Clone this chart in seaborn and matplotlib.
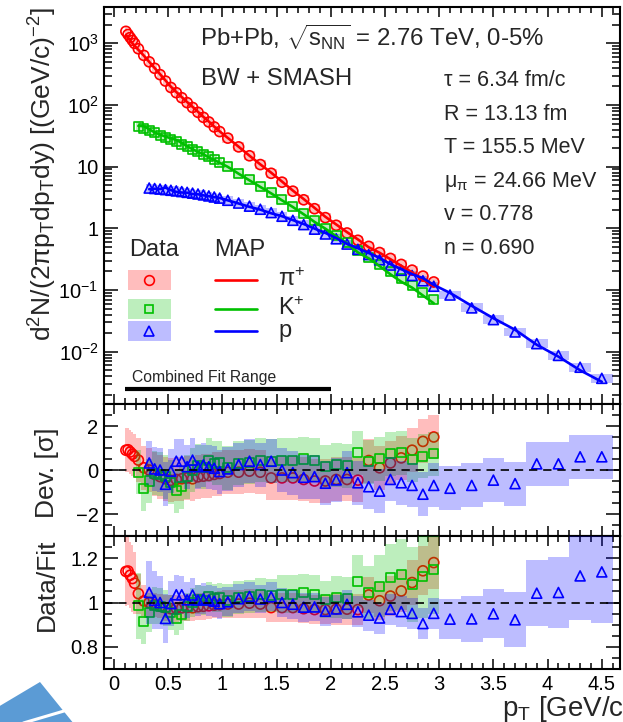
import numpy as np
import matplotlib
matplotlib.use("Agg")
import matplotlib.pyplot as plt
import matplotlib.ticker as mticker
from matplotlib.patches import Rectangle, Polygon
from matplotlib.lines import Line2D
import seaborn as sns

# ---------------- data ----------------
PI_EDGES = [0.10, 0.12, 0.14, 0.16, 0.18, 0.20, 0.25, 0.30, 0.35, 0.40, 0.45, 0.50, 0.55, 0.60,
            0.65, 0.70, 0.75, 0.80, 0.85, 0.90, 0.95, 1.00, 1.10, 1.20, 1.30, 1.40, 1.50, 1.60,
            1.70, 1.80, 1.90, 2.00, 2.10, 2.20, 2.30, 2.40, 2.50, 2.60, 2.70, 2.80, 2.90, 3.00]
K_EDGES = [0.20, 0.25, 0.30, 0.35, 0.40, 0.45, 0.50, 0.55, 0.60, 0.65, 0.70, 0.75, 0.80, 0.85,
           0.90, 0.95, 1.00, 1.10, 1.20, 1.30, 1.40, 1.50, 1.60, 1.70, 1.80, 1.90, 2.00, 2.10,
           2.20, 2.30, 2.40, 2.50, 2.60, 2.70, 2.80, 2.90, 3.00]
P_EDGES = [0.30, 0.35, 0.40, 0.45, 0.50, 0.55, 0.60, 0.65, 0.70, 0.75, 0.80, 0.85, 0.90, 0.95,
           1.00, 1.10, 1.20, 1.30, 1.40, 1.50, 1.60, 1.70, 1.80, 1.90, 2.00, 2.10, 2.20, 2.30,
           2.40, 2.50, 2.60, 2.70, 2.80, 2.90, 3.00, 3.20, 3.40, 3.60, 3.80, 4.00, 4.20, 4.40, 4.60]

PI_SPEC = [1560, 1390, 1240, 1110, 995, 815, 636, 500, 393, 310, 244, 192, 158, 131, 109, 91, 76,
           63, 53, 44, 37, 29, 20.9, 15.0, 10.8, 7.8, 5.6, 4.0, 2.9, 2.08, 1.49, 1.12, 0.84, 0.64,
           0.51, 0.405, 0.325, 0.26, 0.21, 0.168, 0.135]
K_SPEC = [45, 41.5, 38.5, 35.5, 32.5, 30, 27.5, 25.2, 23, 21, 19.2, 17.5, 16, 14.5, 13.1, 11.8,
          10, 7.85, 6.15, 4.85, 3.8, 2.95, 2.3, 1.76, 1.32, 1.0, 0.76, 0.58, 0.445, 0.34, 0.262,
          0.2, 0.153, 0.118, 0.091, 0.07]
P_SPEC = [4.50, 4.42, 4.33, 4.24, 4.14, 4.04, 3.94, 3.83, 3.72, 3.60, 3.48, 3.35, 3.22, 3.09,
          2.85, 2.57, 2.29, 2.04, 1.80, 1.57, 1.35, 1.15, 0.97, 0.81, 0.676, 0.556, 0.457, 0.376,
          0.309, 0.254, 0.209, 0.172, 0.141, 0.115, 0.083, 0.0513, 0.0331, 0.0209, 0.0135,
          0.0087, 0.0056, 0.0037]

PI_DEV = [0.90, 0.92, 0.82, 0.72, 0.62, 0.45, 0.10, 0.00, -0.20, -0.30, -0.40, -0.47, -0.43,
          -0.40, -0.36, -0.40, -0.31, -0.28, -0.25, -0.20, -0.16, -0.10, -0.10, -0.05, -0.10,
          -0.36, -0.36, -0.36, -0.43, -0.50, -0.50, -0.43, -0.43, -0.46, 0.43, 0.10, 0.32, 0.55,
          0.90, 1.30, 1.50]
K_DEV = [-0.10, -0.85, -0.50, -0.15, -0.20, -0.30, -0.55, -0.95, -0.75, -0.30, 0.00, 0.20, 0.12,
         0.45, 0.30, 0.32, 0.10, 0.30, 0.35, 0.45, 0.40, 0.45, 0.45, 0.50, 0.45, 0.15, 0.25, 0.20,
         0.78, 0.37, 0.52, 0.75, 0.78, 0.47, 0.62, 0.75]
P_DEV = [0.32, 0.05, 0.00, -0.65, -0.05, 0.40, 0.40, 0.15, 0.45, 0.15, 0.23, 0.15, 0.08, -0.07,
         0.05, 0.25, 0.40, 0.25, 0.40, 0.00, -0.12, -0.33, -0.30, -0.60, -0.45, -0.12, -0.58,
         -0.76, -0.96, -0.43, -0.58, -0.70, -1.10, -0.70, -0.83, -0.70, -0.46, -0.62, 0.28, 0.28,
         0.60, 0.60]

PI_RATIO = [1.140, 1.142, 1.123, 1.108, 1.087, 1.040, 1.007, 1.000, 0.989, 0.983, 0.976, 0.972,
            0.974, 0.976, 0.978, 0.976, 0.981, 0.983, 0.985, 0.988, 0.990, 0.993, 0.993, 0.997,
            0.993, 0.977, 0.977, 0.977, 0.972, 0.968, 0.968, 0.970, 0.970, 0.968, 1.034, 1.008,
            1.029, 1.052, 1.090, 1.143, 1.180]
K_RATIO = [0.985, 0.915, 0.955, 0.987, 0.984, 0.976, 0.956, 0.929, 0.948, 0.980, 1.000, 1.013,
           1.008, 1.029, 1.020, 1.021, 1.008, 1.023, 1.026, 1.034, 1.030, 1.038, 1.038, 1.043,
           1.038, 1.013, 1.024, 1.019, 1.094, 1.044, 1.073, 1.113, 1.125, 1.080, 1.118, 1.150]
P_RATIO = [1.045, 1.010, 1.000, 0.928, 0.995, 1.035, 1.035, 1.012, 1.034, 1.011, 1.016, 1.011,
           1.006, 0.995, 1.003, 1.017, 1.027, 1.016, 1.026, 1.000, 0.992, 0.979, 0.980, 0.961,
           0.971, 0.992, 0.958, 0.943, 0.930, 0.970, 0.959, 0.951, 0.905, 0.951, 0.925, 0.926,
           0.949, 0.922, 1.042, 1.045, 1.120, 1.138]

PI_ERR = [0.155, 0.155, 0.150, 0.150, 0.140, 0.090, 0.070, 0.060, 0.055, 0.055, 0.060, 0.060,
          0.060, 0.060, 0.060, 0.060, 0.060, 0.060, 0.060, 0.060, 0.060, 0.065, 0.065, 0.065,
          0.065, 0.065, 0.065, 0.065, 0.065, 0.065, 0.065, 0.070, 0.070, 0.070, 0.080, 0.085,
          0.090, 0.095, 0.100, 0.110, 0.120]
K_ERR = [0.150, 0.100, 0.090, 0.085, 0.080, 0.080, 0.080, 0.075, 0.070, 0.065, 0.065, 0.065,
         0.065, 0.065, 0.065, 0.065, 0.075, 0.075, 0.075, 0.075, 0.075, 0.085, 0.085, 0.085,
         0.085, 0.085, 0.095, 0.095, 0.120, 0.120, 0.140, 0.150, 0.160, 0.170, 0.190, 0.200]
P_ERR = [0.140, 0.130, 0.120, 0.110, 0.100, 0.090, 0.085, 0.080, 0.075, 0.070, 0.070, 0.070,
         0.070, 0.070, 0.065, 0.065, 0.065, 0.065, 0.065, 0.065, 0.065, 0.065, 0.065, 0.065,
         0.065, 0.065, 0.070, 0.070, 0.070, 0.070, 0.070, 0.070, 0.070, 0.070, 0.090, 0.105,
         0.110, 0.125, 0.150, 0.160, 0.200, 0.230]

SPECIES = ["π$^{+}$", "K$^{+}$", "p"]
FIT_RANGE = [0.1, 2.0]
PARAMS = ["τ = 6.34 fm/c", "R = 13.13 fm", "T = 155.5 MeV", "μ$_{π}$ = 24.66 MeV",
          "v = 0.778", "n = 0.690"]
LOG_TICKS = [1e-2, 1e-1, 1, 10, 1e2, 1e3]

# ---------------- style ----------------
sns.set_style("ticks")
plt.rcParams["font.family"] = ["Liberation Sans", "DejaVu Sans"]
plt.rcParams["mathtext.fontset"] = "custom"
plt.rcParams["mathtext.rm"] = "Liberation Sans"
plt.rcParams["mathtext.it"] = "Liberation Sans"
plt.rcParams["mathtext.default"] = "regular"
plt.rcParams["axes.unicode_minus"] = True

COLORS = ["#ff0000", "#00c000", "#0000ff"]
MARKERS = ["o", "s", "^"]
MSIZE = [52, 42, 52]
ALPHA = 0.26

fig = plt.figure(figsize=(6.23, 7.22), dpi=100)
L, W = 104 / 623, 516 / 623
ax_top = fig.add_axes([L, 1 - 404 / 722, W, 397 / 722])
ax_dev = fig.add_axes([L, 1 - 536 / 722, W, 132 / 722], sharex=ax_top)
ax_rat = fig.add_axes([L, 1 - 669 / 722, W, 133 / 722], sharex=ax_top)

edges_all = [PI_EDGES, K_EDGES, P_EDGES]
spec_all = [PI_SPEC, K_SPEC, P_SPEC]
dev_all = [PI_DEV, K_DEV, P_DEV]
rat_all = [PI_RATIO, K_RATIO, P_RATIO]
err_all = [PI_ERR, K_ERR, P_ERR]


def centers(e):
    e = np.asarray(e)
    return 0.5 * (e[:-1] + e[1:])


def scatter(ax, x, y, i, z):
    sns.scatterplot(x=x, y=y, ax=ax, marker=MARKERS[i], s=MSIZE[i], color=COLORS[i],
                    facecolor="none", edgecolor=COLORS[i], linewidth=1.2, zorder=z, legend=False)


# ---- top panel ----
for i in range(3):
    e = np.asarray(edges_all[i])
    y = np.asarray(spec_all[i])
    box = 1.18
    ax_top.bar(e[:-1], y * box - y / box, bottom=y / box, width=np.diff(e), align="edge",
               color=COLORS[i], alpha=ALPHA, linewidth=0, zorder=1)
for i in range(3):
    scatter(ax_top, centers(edges_all[i]), np.asarray(spec_all[i]), i, 3)
for i in range(3):
    x = centers(edges_all[i])
    fit = np.asarray(spec_all[i]) / np.asarray(rat_all[i])
    sns.lineplot(x=x, y=fit, ax=ax_top, color=COLORS[i], linewidth=1.9, zorder=4, sort=False)

ax_top.set_yscale("log")
ax_top.set_ylim(10 ** -2.848, 10 ** 3.588)
ax_top.set_xlim(-0.092, 4.668)
ax_top.yaxis.set_major_locator(mticker.FixedLocator(LOG_TICKS))


def logfmt(v, pos):
    k = int(round(np.log10(v)))
    if k == 0:
        return "1"
    if k == 1:
        return "10"
    return "10$^{%s}$" % (str(k).replace("-", "\u2212"))


ax_top.yaxis.set_major_formatter(mticker.FuncFormatter(logfmt))
ax_top.yaxis.set_minor_locator(mticker.LogLocator(base=10, subs=np.arange(2, 10), numticks=30))
ax_top.yaxis.set_minor_formatter(mticker.NullFormatter())

tr = ax_top.transAxes
ax_top.text(0.186, 0.902, "Pb+Pb, $\\sqrt{s_{NN}}$ = 2.76 TeV, 0-5%", transform=tr,
            fontsize=17.3, va="baseline", ha="left")
ax_top.text(0.188, 0.8035, "BW + SMASH", transform=tr, fontsize=17.3, va="baseline", ha="left")
for k, s in enumerate(PARAMS):
    ax_top.text(0.659, 0.8005 - k * 0.0844, s, transform=tr, fontsize=15.5, va="baseline",
                ha="left")

# legend (drawn by hand)
ax_top.text(0.0484, 0.3718, "Data", transform=tr, fontsize=17, va="baseline", ha="left")
ax_top.text(0.2132, 0.3718, "MAP", transform=tr, fontsize=17, va="baseline", ha="left")
rows = [0.3123, 0.2393, 0.1846]
for i in range(3):
    yy = rows[i]
    ax_top.add_patch(Rectangle((0.0471, yy - 0.0252), 0.0822, 0.0504, transform=tr,
                               facecolor=COLORS[i], alpha=ALPHA, linewidth=0, zorder=5))
    ax_top.plot([0.088], [yy], transform=tr, marker=MARKERS[i], ms=7.0 if i != 1 else 6.4,
                mfc="none", mec=COLORS[i], mew=1.2, zorder=6)
    ax_top.plot([0.2151, 0.2959], [yy, yy], transform=tr, color=COLORS[i], lw=1.9, zorder=6)
    ax_top.text(0.3372, yy, SPECIES[i], transform=tr, fontsize=17, va="center", ha="left")

blend = matplotlib.transforms.blended_transform_factory(ax_top.transData, ax_top.transAxes)
ax_top.plot(FIT_RANGE, [0.0378, 0.0378], transform=blend, color="black", lw=3.0,
            solid_capstyle="butt", zorder=6)
ax_top.text(0.054, 0.0562, "Combined Fit Range", transform=tr, fontsize=11.3, va="baseline",
            ha="left")

ax_top.set_ylabel("d$^{2}$N/(2πp$_{T}$dp$_{T}$dy) [(GeV/c)$^{\u22122}$]", fontsize=19,
                  loc="top")
ax_top.yaxis.set_label_coords(-0.087, 1.0)

# ---- deviation and ratio panels ----
for i in range(3):
    e = np.asarray(edges_all[i])
    x = centers(e)
    d = np.asarray(dev_all[i])
    ax_dev.bar(e[:-1], 2.0, bottom=d - 1.0, width=np.diff(e), align="edge",
               color=COLORS[i], alpha=ALPHA, linewidth=0, zorder=1 + 2 * i)
    scatter(ax_dev, x, d, i, 2 + 2 * i)
    r = np.asarray(rat_all[i])
    s = np.asarray(err_all[i])
    ax_rat.bar(e[:-1], 2 * s, bottom=r - s, width=np.diff(e), align="edge",
               color=COLORS[i], alpha=ALPHA, linewidth=0, zorder=1 + 2 * i)
    scatter(ax_rat, x, r, i, 2 + 2 * i)

ax_dev.axhline(0, color="black", lw=1.2, ls=(0, (5, 3.5)), zorder=10)
ax_rat.axhline(1, color="black", lw=1.2, ls=(0, (5, 3.5)), zorder=10)

ax_dev.set_ylim(-3.0, 3.0)
ax_dev.yaxis.set_major_locator(mticker.FixedLocator([-2, 0, 2]))
ax_dev.yaxis.set_minor_locator(mticker.MultipleLocator(0.5))
ax_dev.yaxis.set_major_formatter(mticker.FuncFormatter(lambda v, p: f"{v:g}".replace("-", "\u2212")))
ax_dev.set_ylabel("Dev. [σ]", fontsize=19)
ax_dev.yaxis.set_label_coords(-0.087, 0.48)

ax_rat.set_ylim(0.70, 1.30)
ax_rat.yaxis.set_major_locator(mticker.FixedLocator([0.8, 1.0, 1.2]))
ax_rat.yaxis.set_minor_locator(mticker.MultipleLocator(0.05))
ax_rat.yaxis.set_major_formatter(mticker.FuncFormatter(lambda v, p: f"{v:g}"))
ax_rat.set_ylabel("Data/Fit", fontsize=19)
ax_rat.yaxis.set_label_coords(-0.087, 0.63)

ax_rat.xaxis.set_major_locator(mticker.MultipleLocator(0.5))
ax_rat.xaxis.set_minor_locator(mticker.MultipleLocator(0.1))
ax_rat.xaxis.set_major_formatter(mticker.FuncFormatter(lambda v, p: f"{v:g}"))
ax_rat.set_xlabel("p$_{T}$ [GeV/c]", fontsize=20, loc="right")
ax_rat.xaxis.set_label_coords(1.021, -0.19)

for ax in (ax_top, ax_dev, ax_rat):
    ax.tick_params(which="both", direction="in", top=True, right=True, labelsize=14.5,
                   pad=4, colors="black")
    ax.tick_params(axis="y", which="major", length=10, width=1.1)
    ax.tick_params(axis="y", which="minor", length=5.5, width=1.1)
    ax.tick_params(axis="x", which="major", length=7.5, width=1.1)
    ax.tick_params(axis="x", which="minor", length=4, width=1.1)
    for sp in ax.spines.values():
        sp.set_linewidth(1.5)
        sp.set_color("black")
    ax.set_facecolor("white")
ax_top.tick_params(axis="x", labelbottom=False)
ax_dev.tick_params(axis="x", labelbottom=False)
ax_top.set_xlabel("")
ax_dev.set_xlabel("")

# blue pointer arrow partly visible in the lower-left corner of the reference image
def fpx(x, y):
    return (x / 623, 1 - y / 722)

fig.patches.append(Polygon([fpx(40, 682), fpx(-2, 707), fpx(-2, 724), fpx(74, 724)],
                           closed=True, transform=fig.transFigure, facecolor="#5b9bd5",
                           edgecolor="none", zorder=0))
fig.lines.append(Line2D([20 / 623, 64 / 623], [1 - 724 / 722, 1 - 711 / 722],
                        transform=fig.transFigure, color="white", lw=2.2))

fig.savefig("out.png", dpi=100, facecolor="white")
